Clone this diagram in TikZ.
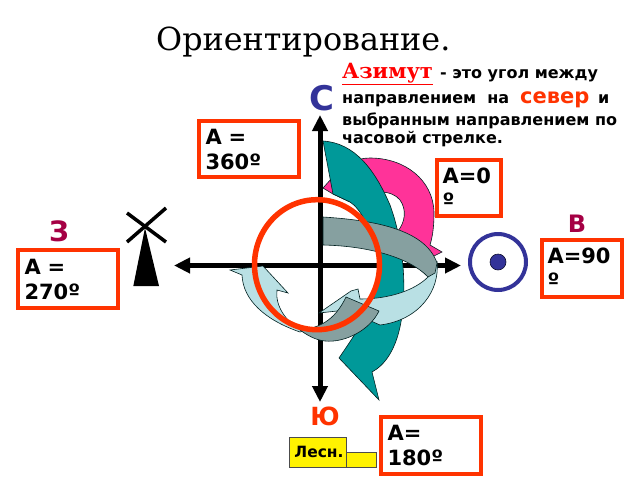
\documentclass[tikz,border=0pt]{standalone}
\usepackage{fontspec}
\setmainfont{DejaVu Sans}
\newfontfamily\titlefont{DejaVu Serif}
\usetikzlibrary{arrows.meta}
\definecolor{boxred}{HTML}{FF3300}
\definecolor{ringblue}{HTML}{333399}
\definecolor{sidered}{HTML}{A50044}
\definecolor{bandteal}{HTML}{009999}
\definecolor{bandpink}{HTML}{FF3399}
\definecolor{bandgray}{HTML}{86A0A0}
\definecolor{bandlight}{HTML}{B9E0E4}
\newcommand\txtsize[2]{\fontsize{#1}{#2}\selectfont}

\begin{document}
\begin{tikzpicture}[x=1pt,y=-1pt,
  azbox/.style={draw=boxred, fill=white, line width=4pt, inner sep=0pt, align=left,
                font=\bfseries\txtsize{21}{25}},
  side/.style={font=\bfseries\txtsize{28}{30}, inner sep=0pt},
  defline/.style={anchor=base west, inner sep=0pt, font=\bfseries\txtsize{16}{18}},
  band/.style={draw=black!80!bandteal, line width=0.6pt},
  axis/.style={line width=5pt, -{Triangle[length=16pt,width=15pt]}}]
\useasboundingbox (0,0) rectangle (640,480);

  % title and definition
  \node[anchor=base west, inner sep=0pt, font=\titlefont\txtsize{31.8}{34}] (title) at (156,50) {Ориентирование.};
  \node[anchor=base west, inner sep=0pt, text=red, font=\titlefont\bfseries\txtsize{21}{22}] (azimut) at (342,78) {\underline{Азимут}};
  \node[defline] (def1) at (440,78) {- это угол между};
  \node[defline] (def2) at (342,103) {направлением\ \ на};
  \node[anchor=base west, inner sep=0pt, text=boxred, font=\bfseries\txtsize{21}{24}] (north) at (520,103) {север};
  \node[defline] (def3) at (598,103) {и};
  \node[defline] (def4) at (342,125) {выбранным направлением по};
  \node[defline] (def5) at (342,143) {часовой стрелке.};

  % axes
  \coordinate (center) at (320,265.5);
  \coordinate (n) at (320,115);
  \coordinate (s) at (320,402);
  \coordinate (w) at (174,265.5);
  \coordinate (e) at (461,265.5);
  \draw[axis] (center) -- (n);
  \draw[axis] (center) -- (s);
  \draw[axis] (center) -- (w);
  \draw[axis] (center) -- (e);

  % pink arrow
  \draw[band, fill=bandpink] (323,188) -- (332,178)
    .. controls (345,165) and (355,158) .. (370,158)
    .. controls (405,158) and (433,180) .. (434,212)
    .. controls (434,225) and (433,235) .. (430,245)
    -- (442,252) -- (430,258) -- (398,231)
    .. controls (405,222) and (407,210) .. (400,200)
    .. controls (392,190) and (372,188) .. (350,202)
    -- (333,194) -- cycle;

  % teal arrow
  \draw[band, fill=bandteal] (323,141)
    .. controls (355,143) and (375,170) .. (390,205)
    .. controls (403,240) and (408,290) .. (400,327)
    .. controls (395,350) and (385,365) .. (372,372)
    -- (379,400) -- (339,358)
    .. controls (365,320) and (385,290) .. (377,253)
    .. controls (372,230) and (360,208) .. (350,202)
    -- (333,194) -- cycle;

  % light ribbon on the right
  \draw[band, fill=bandlight] (437,262)
    .. controls (440,290) and (420,320) .. (380,325)
    -- (346,310) -- (319,313) -- (351,291) -- (358,289) -- (360,299)
    .. controls (390,299) and (415,290) .. (428,277)
    -- cycle;

  % gray ribbon on the top
  \draw[band, fill=bandgray] (323,217)
    .. controls (370,220) and (425,228) .. (437,263)
    -- (435,273) -- (428,277)
    .. controls (410,258) and (370,246) .. (323,245)
    -- cycle;

  % light arrow on the left
  \draw[band, fill=bandlight] (230,270) -- (263,266) -- (288,293) -- (277,290)
    .. controls (275,305) and (285,322) .. (303,331)
    -- (300,332)
    .. controls (265,320) and (243,300) .. (242,275)
    -- cycle;

  % gray arrow at the bottom
  \draw[band, fill=bandgray] (346,297) -- (379,311)
    .. controls (370,330) and (345,343) .. (325,341)
    .. controls (315,340) and (307,335) .. (300,330)
    .. controls (320,328) and (335,320) .. (346,297)
    -- cycle;

  % red ring
  \draw[boxred, line width=5.5pt] (317,264.7) ellipse [x radius=62.5pt, y radius=65pt];

  % mill
  \coordinate (millbl) at (133.3,286);
  \coordinate (millbr) at (159,286);
  \coordinate (milltop) at (145,228);
  \fill (millbl) -- (milltop) -- (millbr) -- cycle;
  \draw[line width=3.5pt] (127,213) -- (166,242);
  \draw[line width=3.5pt] (166,208) -- (127,242);

  % sun
  \node[circle, draw=ringblue, line width=4pt, minimum size=56pt, inner sep=0pt] (ring) at (498,262) {};
  \node[circle, draw=black!70!ringblue, fill=ringblue, line width=0.6pt, minimum size=16pt, inner sep=0pt] (dot) at (ring.center) {};

  % sides
  \node[side, text=ringblue, font=\bfseries\txtsize{34}{36}] (sideN) at (322,98) {С};
  \node[side, text=sidered, font=\bfseries\txtsize{24}{26}] (sideE) at (577,224) {В};
  \node[side, text=sidered] (sideW) at (59,231) {З};
  \node[side, text=boxred, font=\bfseries\txtsize{25}{27}] (sideS) at (325,416) {Ю};

  % azimuth boxes
  \node[azbox, text width=87pt, minimum width=100pt, minimum height=56pt] (a360) at (249,149) {А =\\360º};
  \node[azbox, text width=53pt, minimum width=64pt, minimum height=56pt] (a0) at (469,188) {А=0\\º};
  \node[azbox, text width=69pt, minimum width=80pt, minimum height=57pt] (a90) at (582,268.5) {А=90\\º};
  \node[azbox, text width=87pt, minimum width=100pt, minimum height=58pt] (a270) at (68,279) {А =\\270º};
  \node[azbox, text width=87pt, minimum width=100pt, minimum height=57pt] (a180) at (431,445.5) {А=\\180º};

  % map sign
  \node[draw=black!70, fill=yellow, line width=0.8pt, minimum width=30pt, minimum height=15pt, inner sep=0pt] (signtail) at (361,459.5) {};
  \node[draw=black!70, fill=yellow, line width=0.8pt, minimum width=57pt, minimum height=30pt, inner sep=0pt,
        font=\bfseries\txtsize{15.5}{16}] (sign) at (317.5,452) {\hspace{3pt}Лесн.};
\end{tikzpicture}
\end{document}
